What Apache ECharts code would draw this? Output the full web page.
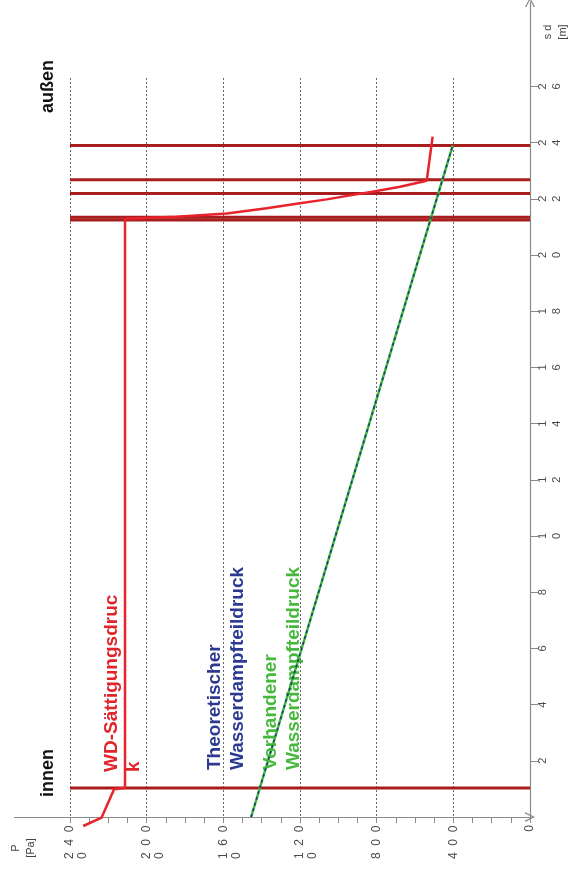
<!DOCTYPE html>
<html>
<head>
<meta charset="utf-8">
<script src="https://cdn.jsdelivr.net/npm/echarts@6/dist/echarts.min.js"></script>
<style>
  html, body { margin: 0; padding: 0; background: #ffffff; }
  #chart { width: 574px; height: 886px; }
</style>
</head>
<body>
<div id="chart"></div>
<script>
// Glaser-Diagramm: Wasserdampfdruck P [Pa] über der diffusionsäquivalenten Luftschichtdicke sd [m]

// Druckachse (Pa)
const pressureTicks = [0, 400, 800, 1200, 1600, 2000, 2400];
const pressureLabels = ['0', '400', '800', '1200', '1600', '2000', '2400'];
const pressureMinorTicks = [0, 100, 200, 300, 400, 500, 600, 700, 800, 900, 1000, 1100, 1200,
  1300, 1400, 1500, 1600, 1700, 1800, 1900, 2000, 2100, 2200, 2300, 2400];

// sd-Achse (m)
const sdTicks = [2, 4, 6, 8, 10, 12, 14, 16, 18, 20, 22, 24, 26];
const sdLabels = ['2', '4', '6', '8', '10', '12', '14', '16', '18', '20', '22', '24', '26'];

// Schichtgrenzen (sd in m)
const layerSd = [1.03, 21.25, 21.34, 22.19, 22.68, 23.9];

// Wasserdampf-Sättigungsdruck
const saturationSd = [-0.32, -0.02, 0.99, 1.03, 21.29, 21.36, 21.48, 21.66, 21.84, 21.98, 22.14, 22.28, 22.43, 22.64, 24.21];
const saturationP = [2331, 2235, 2170, 2113, 2113, 1843, 1582, 1374, 1200, 1061, 922, 800, 678, 539, 508];

// Vorhandener und theoretischer Wasserdampfteildruck
const existingSd = [0, 23.9];
const existingP = [1455, 403];
const theoreticalSd = [0, 23.9];
const theoreticalP = [1455, 403];

// Geometrie der Zeichenfläche
const AXIS_Y = 817;          // Lage der Druckachse
const P_ZERO_X = 530;        // Lage der sd-Achse
const PX_PER_M = 28.1;
const PX_PER_PA = 460 / 2400;
const SD_GRID_MAX = 26.3;
const SD_AXIS_MAX = 29;
const P_AXIS_MAX = 2690;

const W = 574, H = 886;
const FONT = '"Liberation Sans", Arial, sans-serif';

const pairs = (ps, sds) => ps.map((p, i) => [p, sds[i]]);

// Druckachse: Ziffern gesperrt, vierstellige Werte umbrechen (linksbündig, erste Zeile auf dem Teilstrich)
const pressureLabelText = (v) => {
  const digits = pressureLabels[pressureTicks.indexOf(v)].split('');
  if (digits.length === 1) return digits[0];
  if (digits.length === 3) return '{n|' + digits.join('  ') + '}';
  return '{e| }\n{n|' + digits.slice(0, 3).join('  ') + '}\n{n|' + digits[3] + '}';
};

// sd-Achse: Ziffern untereinander (nach Drehung nebeneinander)
const sdLabelText = (v) => sdLabels[sdTicks.indexOf(v)].split('').join('\n');

const chevron = 'path://M0,10 L5,0 L10,10 L8.6,10 L5,2.8 L1.4,10 Z';

const layerSeries = layerSd.map((sd) => ({
  type: 'line',
  xAxisIndex: 0, yAxisIndex: 0,
  data: [[0, sd], [2400, sd]],
  symbol: 'none',
  silent: true,
  lineStyle: { color: '#a81e1e', width: 3 },
  z: 3
}));

const tickFont = { fontSize: 12, color: '#4a4a4a', fontFamily: FONT };

const option = {
  backgroundColor: '#ffffff',
  animation: false,
  grid: [
    { left: 70, right: W - P_ZERO_X, top: AXIS_Y - SD_GRID_MAX * PX_PER_M, bottom: H - AXIS_Y },
    { left: P_ZERO_X - P_AXIS_MAX * PX_PER_PA, right: W - P_ZERO_X, top: AXIS_Y - SD_AXIS_MAX * PX_PER_M, bottom: H - AXIS_Y }
  ],
  xAxis: [
    {
      gridIndex: 0, type: 'value', inverse: true, min: 0, max: 2400, interval: 400,
      axisLine: { show: false }, axisTick: { show: false }, axisLabel: { show: false },
      splitLine: { show: true, lineStyle: { color: '#666', width: 1, type: [2, 2] } }
    },
    {
      gridIndex: 1, type: 'value', inverse: true, min: 0, max: P_AXIS_MAX, position: 'bottom',
      axisLine: { show: true, onZero: false, symbol: ['none', chevron], symbolSize: [12, 10],
        lineStyle: { color: '#8a8a8a', width: 1.2 } },
      axisTick: { show: true, customValues: pressureMinorTicks, length: 6, lineStyle: { color: '#8a8a8a' } },
      axisLabel: {
        customValues: pressureTicks, rotate: 90, margin: 8,
        fontSize: 12, lineHeight: 13, color: '#4a4a4a', fontFamily: FONT,
        formatter: pressureLabelText,
        rich: {
          n: Object.assign({ width: 34, align: 'left', lineHeight: 13 }, tickFont),
          e: Object.assign({ width: 34, align: 'left', lineHeight: 13 }, tickFont)
        }
      },
      splitLine: { show: false }
    }
  ],
  yAxis: [
    { gridIndex: 0, type: 'value', min: 0, max: SD_GRID_MAX, show: false },
    {
      gridIndex: 1, type: 'value', min: 0, max: SD_AXIS_MAX, position: 'right',
      axisLine: { show: true, onZero: false, symbol: ['none', chevron], symbolSize: [12, 10],
        lineStyle: { color: '#8a8a8a', width: 1.2 } },
      axisTick: { show: true, customValues: sdTicks, length: 8, lineStyle: { color: '#8a8a8a' } },
      axisLabel: {
        customValues: sdTicks, rotate: 90, margin: 6,
        fontSize: 11, lineHeight: 14, color: '#4a4a4a', fontFamily: FONT,
        formatter: sdLabelText
      },
      splitLine: { show: false }
    }
  ],
  series: [
    ...layerSeries,
    {
      name: 'WD-Sättigungsdruck', type: 'line', xAxisIndex: 0, yAxisIndex: 0,
      data: pairs(saturationP, saturationSd), symbol: 'none', clip: false, silent: true,
      lineStyle: { color: '#e8232b', width: 2.5 }, z: 5
    },
    {
      name: 'Vorhandener Wasserdampfteildruck', type: 'line', xAxisIndex: 0, yAxisIndex: 0,
      data: pairs(existingP, existingSd), symbol: 'none', clip: false, silent: true,
      lineStyle: { color: '#3fb83f', width: 2.5 }, z: 6
    },
    {
      name: 'Theoretischer Wasserdampfteildruck', type: 'line', xAxisIndex: 0, yAxisIndex: 0,
      data: pairs(theoreticalP, theoreticalSd), symbol: 'none', clip: false, silent: true,
      lineStyle: { color: '#1d3f6e', width: 1.6, type: [3, 3] }, z: 7
    }
  ],
  graphic: [
    { type: 'text', x: 48, y: 797, rotation: Math.PI / 2,
      style: { text: 'innen', font: 'bold 18px ' + FONT, fill: '#111', align: 'left', verticalAlign: 'middle' } },
    { type: 'text', x: 48, y: 113, rotation: Math.PI / 2,
      style: { text: 'außen', font: 'bold 18px ' + FONT, fill: '#111', align: 'left', verticalAlign: 'middle' } },
    { type: 'text', x: 101, y: 772, rotation: Math.PI / 2,
      style: { text: 'WD-Sättigungsdruc\nk', font: 'bold 19px ' + FONT, lineHeight: 22, fill: '#e0252b',
        align: 'left', verticalAlign: 'top' } },
    { type: 'text', x: 203, y: 770, rotation: Math.PI / 2,
      style: { text: 'Theoretischer\nWasserdampfteildruck', font: 'bold 19px ' + FONT, lineHeight: 23, fill: '#2b3990',
        align: 'left', verticalAlign: 'top' } },
    { type: 'text', x: 259, y: 770, rotation: Math.PI / 2,
      style: { text: 'Vorhandener\nWasserdampfteildruck', font: 'bold 19px ' + FONT, lineHeight: 23, fill: '#46b93c',
        align: 'left', verticalAlign: 'top' } },
    { type: 'text', x: 8, y: 848, rotation: Math.PI / 2,
      style: { text: 'P\n[Pa]', font: '11px ' + FONT, lineHeight: 15, fill: '#444', align: 'center', verticalAlign: 'top' } },
    { type: 'text', x: 540, y: 32, rotation: Math.PI / 2,
      style: { text: 's d\n[m]', font: '11px ' + FONT, lineHeight: 15, fill: '#444', align: 'center', verticalAlign: 'top' } }
  ]
};

const chart = echarts.init(document.getElementById('chart'), null, { renderer: 'canvas', width: W, height: H });
chart.setOption(option);
</script>
</body>
</html>
